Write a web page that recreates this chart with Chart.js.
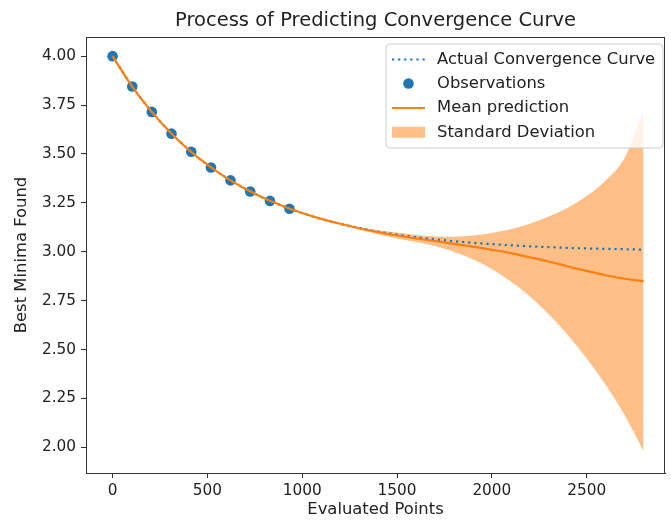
<!DOCTYPE html>
<html><head><meta charset="utf-8">
<script src="https://cdn.jsdelivr.net/npm/chart.js@4.4.1/dist/chart.umd.min.js"></script>
<style>html,body{margin:0;padding:0;background:#fff}canvas{display:block}</style>
</head><body>
<canvas id="c" width="671" height="522"></canvas>
<script>
// ---- data ----
const xGrid   = [0,100,200,300,400,500,600,700,800,900,1000,1100,1200,1300,1400,1500,1600,1700,1800,1900,2000,2100,2200,2300,2400,2500,2600,2700,2800];
const actualY = [4.000,3.850,3.723,3.615,3.523,3.445,3.378,3.322,3.273,3.233,3.198,3.168,3.143,3.122,3.103,3.088,3.075,3.064,3.054,3.046,3.039,3.033,3.028,3.024,3.020,3.017,3.015,3.013,3.011];
const meanY   = [4.000,3.850,3.723,3.615,3.523,3.445,3.378,3.322,3.273,3.233,3.198,3.168,3.143,3.120,3.100,3.083,3.068,3.055,3.040,3.026,3.010,2.993,2.972,2.950,2.925,2.902,2.880,2.862,2.850];
const lowerY  = [4.000,3.850,3.723,3.615,3.523,3.445,3.378,3.322,3.273,3.233,3.197,3.166,3.140,3.114,3.090,3.068,3.050,3.030,3.000,2.962,2.912,2.848,2.772,2.680,2.575,2.455,2.320,2.165,1.980];
const upperY  = [4.000,3.850,3.723,3.615,3.523,3.445,3.378,3.322,3.273,3.233,3.199,3.170,3.146,3.126,3.110,3.098,3.086,3.078,3.077,3.083,3.096,3.115,3.143,3.180,3.225,3.285,3.365,3.480,3.720];
const obsX    = [0,104,207,311,415,519,622,726,830,933];
const obsY    = [4.000,3.845,3.715,3.604,3.511,3.431,3.365,3.308,3.260,3.220];
const xTicks  = [0,500,1000,1500,2000,2500];
const yTicks  = [2.00,2.25,2.50,2.75,3.00,3.25,3.50,3.75,4.00];
const titleText = 'Process of Predicting Convergence Curve';
const xLabel = 'Evaluated Points';
const yLabel = 'Best Minima Found';
const seriesNames = ['Actual Convergence Curve','Observations','Mean prediction','Standard Deviation'];

// ---- styling ----
const FONT = "'DejaVu Sans', sans-serif";
const BLUE = '#1f77b4', ORANGE = '#ff7f0e', BAND = 'rgba(255,127,14,0.5)';
const TEXT = '#222', AXIS = '#333';
const DASH = [2.2, 3.9];
const pts = (xs, ys) => xs.map((x, i) => ({x: x, y: ys[i]}));

const decor = {
  id: 'decor',
  afterDraw(chart) {
    const ctx = chart.ctx, a = chart.chartArea;
    ctx.save();
    ctx.strokeStyle = AXIS; ctx.lineWidth = 1;
    ctx.strokeRect(Math.round(a.left) + 0.5, Math.round(a.top) + 0.5, Math.round(a.right - a.left) - 1, Math.round(a.bottom - a.top));
    ctx.fillStyle = TEXT;
    ctx.font = '19.5px ' + FONT;
    ctx.textAlign = 'center'; ctx.textBaseline = 'alphabetic';
    ctx.fillText(titleText, (a.left + a.right) / 2, 26);
    const lx = 386, ly = 44, lw = 277, lh = 104, r = 4;
    ctx.beginPath();
    ctx.moveTo(lx + r, ly); ctx.lineTo(lx + lw - r, ly); ctx.quadraticCurveTo(lx + lw, ly, lx + lw, ly + r);
    ctx.lineTo(lx + lw, ly + lh - r); ctx.quadraticCurveTo(lx + lw, ly + lh, lx + lw - r, ly + lh);
    ctx.lineTo(lx + r, ly + lh); ctx.quadraticCurveTo(lx, ly + lh, lx, ly + lh - r);
    ctx.lineTo(lx, ly + r); ctx.quadraticCurveTo(lx, ly, lx + r, ly); ctx.closePath();
    ctx.fillStyle = 'rgba(255,255,255,0.8)'; ctx.fill();
    ctx.strokeStyle = '#cccccc'; ctx.lineWidth = 1; ctx.stroke();
    const rows = [59.5, 83.5, 108, 132.3];
    const hx0 = 392, hx1 = 425, tx = 437;
    ctx.strokeStyle = BLUE; ctx.lineWidth = 2.2; ctx.setLineDash(DASH);
    ctx.beginPath(); ctx.moveTo(hx0, rows[0]); ctx.lineTo(hx1, rows[0]); ctx.stroke();
    ctx.setLineDash([]);
    ctx.fillStyle = BLUE; ctx.beginPath(); ctx.arc((hx0 + hx1) / 2, rows[1], 5.3, 0, Math.PI * 2); ctx.fill();
    ctx.strokeStyle = ORANGE; ctx.lineWidth = 2.2;
    ctx.beginPath(); ctx.moveTo(hx0, rows[2]); ctx.lineTo(hx1, rows[2]); ctx.stroke();
    ctx.fillStyle = BAND; ctx.fillRect(hx0, rows[3] - 5.5, hx1 - hx0, 11);
    ctx.fillStyle = TEXT; ctx.font = '16.4px ' + FONT;
    ctx.textAlign = 'left'; ctx.textBaseline = 'middle';
    seriesNames.forEach((n, i) => ctx.fillText(n, tx, rows[i]));
    ctx.restore();
  }
};

new Chart(document.getElementById('c'), {
  type: 'line',
  data: {
    datasets: [
      {label: seriesNames[0], data: pts(xGrid, actualY), borderColor: BLUE, borderWidth: 2.2, borderDash: DASH,
       pointRadius: 0, fill: false, order: 1, cubicInterpolationMode: 'monotone'},
      {label: seriesNames[1], data: pts(obsX, obsY), showLine: false, pointRadius: 5.3, pointBackgroundColor: BLUE,
       pointBorderWidth: 0, borderColor: BLUE, order: 3},
      {label: seriesNames[2], data: pts(xGrid, meanY), borderColor: ORANGE, borderWidth: 2.2, pointRadius: 0,
       fill: false, order: 0, cubicInterpolationMode: 'monotone'},
      {label: 'lower', data: pts(xGrid, lowerY), borderWidth: 0, borderColor: 'rgba(0,0,0,0)', pointRadius: 0,
       fill: false, order: 2, cubicInterpolationMode: 'monotone'},
      {label: seriesNames[3], data: pts(xGrid, upperY), borderWidth: 0, borderColor: 'rgba(0,0,0,0)', pointRadius: 0,
       backgroundColor: BAND, fill: 3, order: 2, cubicInterpolationMode: 'monotone'}
    ]
  },
  options: {
    responsive: false, animation: false, devicePixelRatio: 1,
    layout: {padding: {left: 0, right: 6, top: 37, bottom: 0}},
    plugins: {legend: {display: false}, tooltip: {enabled: false}, title: {display: false}},
    scales: {
      x: {
        type: 'linear', min: -140, max: 2913,
        afterFit: s => { s.height = 49; },
        afterBuildTicks: ax => { ax.ticks = xTicks.map(v => ({value: v})); },
        ticks: {autoSkip: false, maxRotation: 0, padding: 4, color: TEXT, font: {family: FONT, size: 15.3},
                callback: v => String(v)},
        grid: {drawOnChartArea: false, drawTicks: true, tickLength: 5, color: AXIS},
        border: {display: true, color: AXIS, width: 1},
        title: {display: true, text: xLabel, color: TEXT, font: {family: FONT, size: 16.4}, padding: {top: 0, bottom: 2}}
      },
      y: {
        type: 'linear', min: 1.869, max: 4.098,
        afterFit: s => { s.width = 86; },
        afterBuildTicks: ax => { ax.ticks = yTicks.map(v => ({value: v})); },
        ticks: {autoSkip: false, padding: 5, color: TEXT, font: {family: FONT, size: 15.3},
                callback: v => Number(v).toFixed(2)},
        grid: {drawOnChartArea: false, drawTicks: true, tickLength: 5, color: AXIS},
        border: {display: true, color: AXIS, width: 1},
        title: {display: true, text: yLabel, color: TEXT, font: {family: FONT, size: 16.4}, padding: {top: 12, bottom: 0}}
      }
    }
  },
  plugins: [decor]
});
</script>
</body></html>
